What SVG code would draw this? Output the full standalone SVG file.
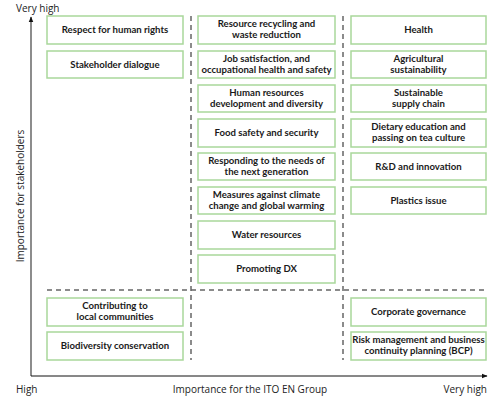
<svg xmlns="http://www.w3.org/2000/svg" width="488" height="399" viewBox="0 0 488 399">
<defs>
<style>
.box{fill:#fff;stroke:#a9d79b;stroke-width:1.5}
.t{font-family:Lato,"Open Sans",sans-serif;font-weight:bold;font-size:9.6px;fill:#1a1a1a;text-anchor:middle}
.ax{font-family:"Open Sans","Noto Sans",sans-serif;font-size:10px;fill:#222}
.dash{stroke:#666;stroke-width:1.5;stroke-dasharray:5,4;fill:none}
</style>
<marker id="ah" viewBox="0 0 10 10" refX="9" refY="5" markerWidth="6" markerHeight="6" orient="auto" markerUnits="userSpaceOnUse">
<path d="M0,1 L10,5 L0,9 z" fill="#111"/>
</marker>
</defs>
<rect width="488" height="399" fill="#fff"/>
<g id="connectors">
<line x1="31" y1="376" x2="31" y2="17" stroke="#707070" stroke-width="1.6" marker-end="url(#ah)"/>
<line x1="31" y1="376" x2="487" y2="376" stroke="#111" stroke-width="1" marker-end="url(#ah)"/>
<line class="dash" x1="191" y1="16" x2="191" y2="360"/>
<line class="dash" x1="343" y1="16" x2="343" y2="360"/>
<line class="dash" x1="47" y1="290" x2="487" y2="290"/>
</g>
<g id="axis-labels">
<text class="ax" x="16" y="12">Very high</text>
<text class="ax" x="16" y="393">High</text>
<text class="ax" x="250" y="393" text-anchor="middle">Importance for the ITO EN Group</text>
<text class="ax" x="487" y="393" text-anchor="end">Very high</text>
<text class="ax" transform="translate(24,196) rotate(-90)" text-anchor="middle">Importance for stakeholders</text>
</g>
<g id="n-human-rights"><rect class="box" x="47" y="16" width="136" height="28"/><text class="t" x="115" y="33.3">Respect for human rights</text></g>
<g id="n-dialogue"><rect class="box" x="47" y="51" width="136" height="27"/><text class="t" x="115" y="67.8">Stakeholder dialogue</text></g>
<g id="n-local"><rect class="box" x="47" y="298" width="136" height="28"/><text class="t" x="115" y="309">Contributing to</text><text class="t" x="115" y="320.4">local communities</text></g>
<g id="n-biodiversity"><rect class="box" x="47" y="332" width="136" height="28"/><text class="t" x="115" y="349.3">Biodiversity conservation</text></g>

<g id="n-recycling"><rect class="box" x="198" y="16" width="137" height="28"/><text class="t" x="266.5" y="27">Resource recycling and</text><text class="t" x="266.5" y="38.4">waste reduction</text></g>
<g id="n-job"><rect class="box" x="198" y="51" width="137" height="27"/><text class="t" x="266.5" y="61.5">Job satisfaction, and</text><text class="t" x="266.5" y="72.9">occupational health and safety</text></g>
<g id="n-hr"><rect class="box" x="198" y="85" width="137" height="27"/><text class="t" x="266.5" y="95.5">Human resources</text><text class="t" x="266.5" y="106.9">development and diversity</text></g>
<g id="n-food"><rect class="box" x="198" y="119" width="137" height="28"/><text class="t" x="266.5" y="136.3">Food safety and security</text></g>
<g id="n-next"><rect class="box" x="198" y="153" width="137" height="27"/><text class="t" x="266.5" y="163.5">Responding to the needs of</text><text class="t" x="266.5" y="174.9">the next generation</text></g>
<g id="n-climate"><rect class="box" x="198" y="187" width="137" height="27"/><text class="t" x="266.5" y="197.5">Measures against climate</text><text class="t" x="266.5" y="208.9">change and global warming</text></g>
<g id="n-water"><rect class="box" x="198" y="221" width="137" height="28"/><text class="t" x="266.5" y="238.3">Water resources</text></g>
<g id="n-dx"><rect class="box" x="198" y="255" width="137" height="28"/><text class="t" x="266.5" y="272.3">Promoting DX</text></g>

<g id="n-health"><rect class="box" x="351" y="16" width="135" height="28"/><text class="t" x="418.5" y="33.3">Health</text></g>
<g id="n-agri"><rect class="box" x="351" y="51" width="135" height="27"/><text class="t" x="418.5" y="61.5">Agricultural</text><text class="t" x="418.5" y="72.9">sustainability</text></g>
<g id="n-supply"><rect class="box" x="351" y="85" width="135" height="27"/><text class="t" x="418.5" y="95.5">Sustainable</text><text class="t" x="418.5" y="106.9">supply chain</text></g>
<g id="n-dietary"><rect class="box" x="351" y="119" width="135" height="28"/><text class="t" x="418.5" y="130">Dietary education and</text><text class="t" x="418.5" y="141.4">passing on tea culture</text></g>
<g id="n-rd"><rect class="box" x="351" y="153" width="135" height="27"/><text class="t" x="418.5" y="169.8">R&amp;D and innovation</text></g>
<g id="n-plastics"><rect class="box" x="351" y="187" width="135" height="27"/><text class="t" x="418.5" y="203.8">Plastics issue</text></g>
<g id="n-governance"><rect class="box" x="351" y="298" width="135" height="28"/><text class="t" x="418.5" y="315.3">Corporate governance</text></g>
<g id="n-bcp"><rect class="box" x="351" y="332" width="135" height="28"/><text class="t" x="418.5" y="343">Risk management and business</text><text class="t" x="418.5" y="354.4">continuity planning (BCP)</text></g>
</svg>
